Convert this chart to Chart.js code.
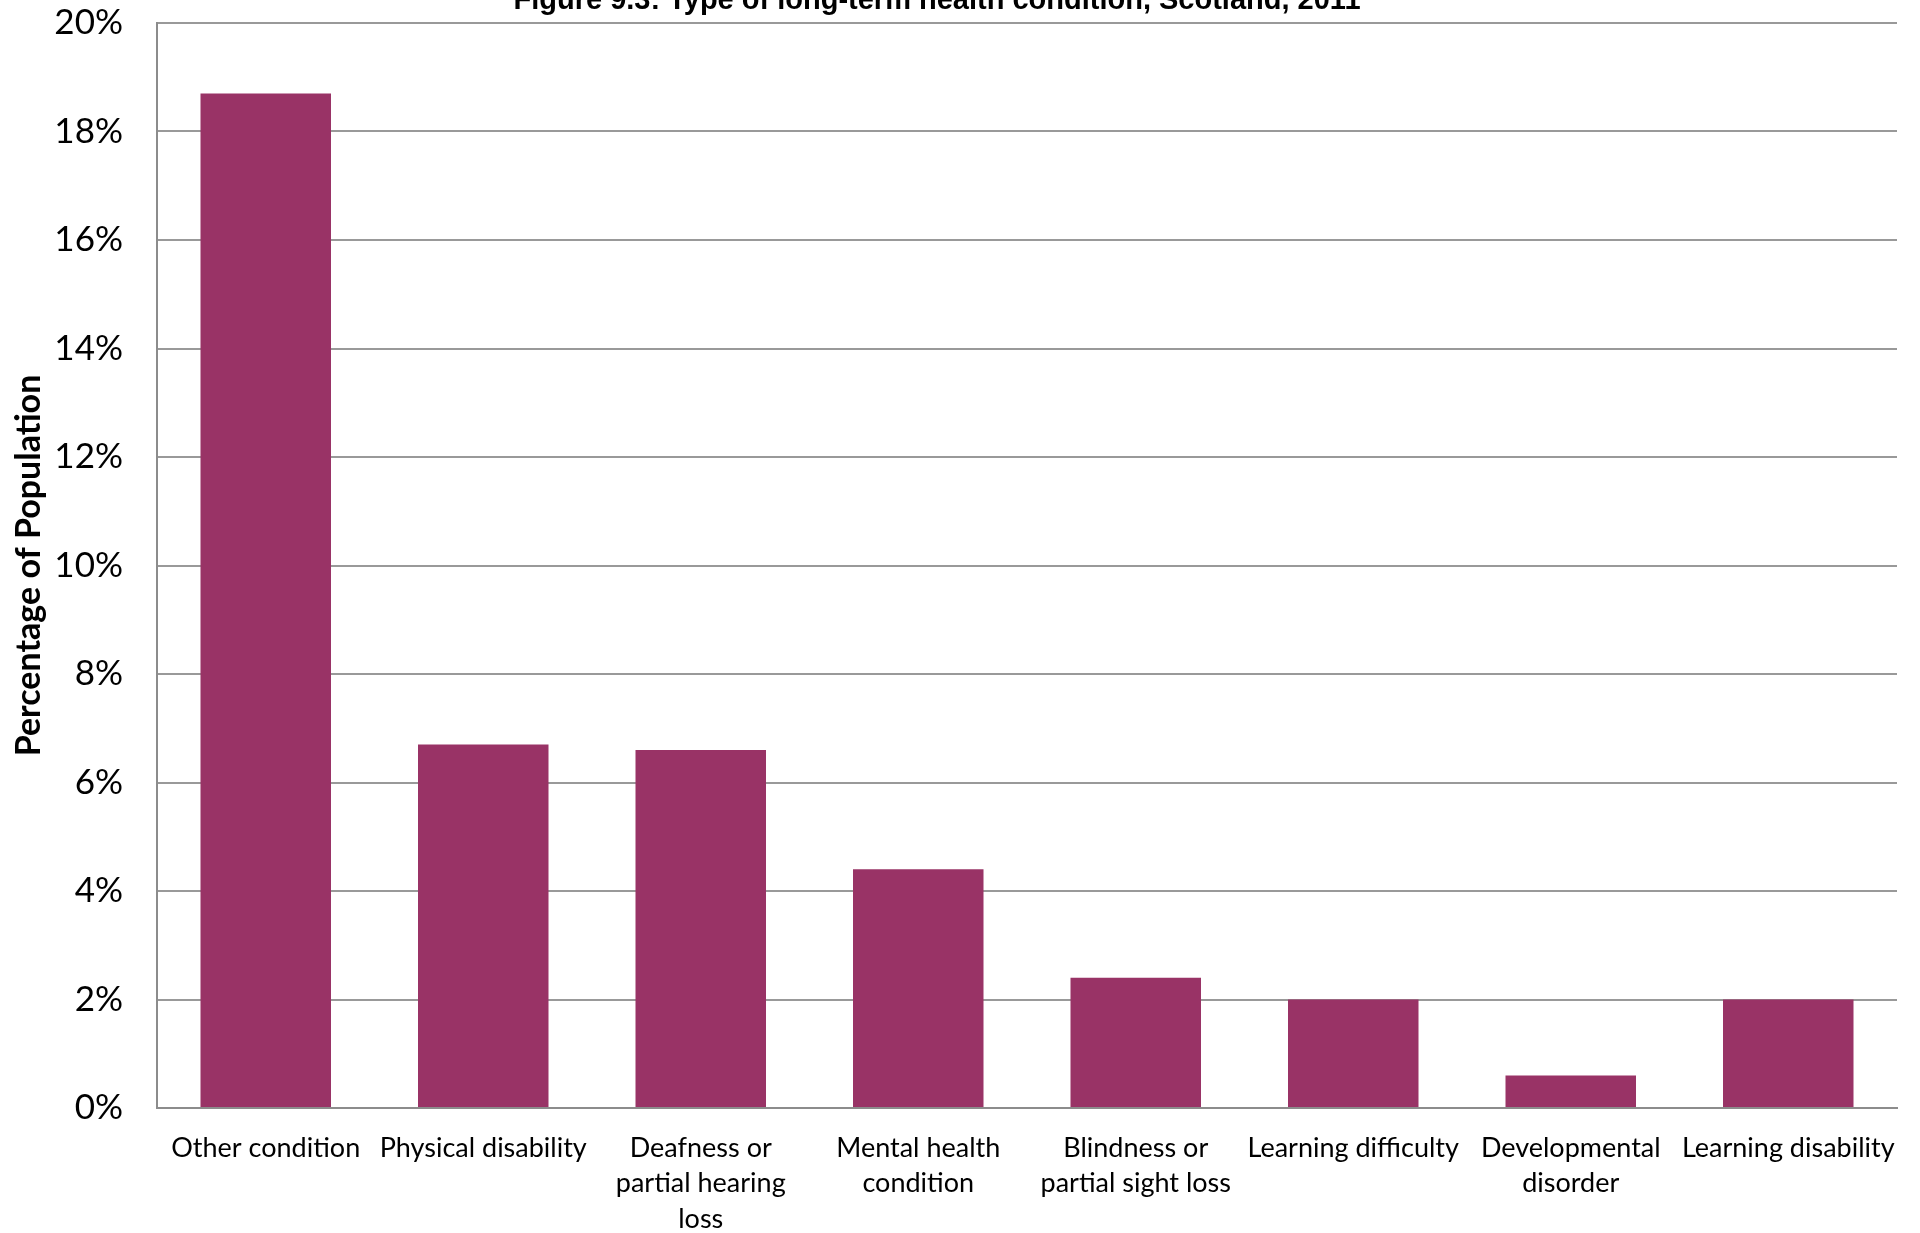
<!DOCTYPE html>
<html>
<head>
<meta charset="utf-8">
<script src="https://cdn.jsdelivr.net/npm/chart.js@4/dist/chart.umd.min.js"></script>
<style>
  html, body { margin: 0; padding: 0; background: #ffffff; }
  #wrap { width: 1920px; height: 1233px; position: relative; }
  canvas { display: block; }
</style>
</head>
<body>
<div id="wrap"><canvas id="c" width="1920" height="1233"></canvas></div>
<script>
const chartTitle = "Figure 9.3: Type of long-term health condition, Scotland, 2011";
const yAxisTitle = "Percentage of Population";
const categories = [
  "Other condition",
  "Physical disability",
  ["Deafness or", "partial hearing", "loss"],
  ["Mental health", "condition"],
  ["Blindness or", "partial sight loss"],
  "Learning difficulty",
  ["Developmental", "disorder"],
  "Learning disability"
];
const percentValues = [18.7, 6.7, 6.6, 4.4, 2.4, 2.0, 0.6, 2.0];
const yTickValues = [0, 2, 4, 6, 8, 10, 12, 14, 16, 18, 20];

const titlePlugin = {
  id: 'clippedTitle',
  afterDraw(chart) {
    const ctx = chart.ctx;
    ctx.save();
    ctx.font = 'bold 29px "Liberation Sans", Arial, sans-serif';
    ctx.fillStyle = '#000000';
    ctx.textAlign = 'center';
    ctx.textBaseline = 'alphabetic';
    ctx.fillText(chartTitle, 937, 9);
    ctx.restore();
  }
};

new Chart(document.getElementById('c'), {
  type: 'bar',
  data: {
    labels: categories,
    datasets: [{
      data: percentValues,
      backgroundColor: '#993366',
      borderWidth: 0,
      barPercentage: 0.6,
      categoryPercentage: 1.0
    }]
  },
  options: {
    responsive: false,
    animation: false,
    devicePixelRatio: 1,
    layout: { padding: { top: 23, right: 23, left: 0, bottom: 0 } },
    plugins: { legend: { display: false }, tooltip: { enabled: false } },
    scales: {
      x: {
        grid: { display: false, drawTicks: false },
        border: { display: true, color: '#8c8c8c', width: 2 },
        ticks: {
          color: '#000000',
          font: { family: 'Lato', size: 27, lineHeight: 1.32 },
          padding: 22,
          maxRotation: 0,
          minRotation: 0,
          autoSkip: false
        },
        afterFit(scale) { scale.height = 125; }
      },
      y: {
        min: 0,
        max: 20,
        afterBuildTicks(scale) { scale.ticks = yTickValues.map(v => ({ value: v })); },
        grid: { color: '#999999', lineWidth: 2, drawTicks: false },
        border: { display: true, color: '#8c8c8c', width: 2 },
        ticks: {
          color: '#000000',
          font: { family: 'Lato', size: 35 },
          padding: 34,
          callback: (v) => v + '%'
        },
        title: {
          display: true,
          text: yAxisTitle,
          color: '#000000',
          font: { family: 'Lato', size: 34, weight: 'bold', lineHeight: 1.2 },
          padding: { top: 9, bottom: 0 }
        },
        afterFit(scale) {
          scale.width = 157;
          scale.paddingTop = 0;
          scale.paddingBottom = 0;
        }
      }
    }
  },
  plugins: [titlePlugin]
});
</script>
</body>
</html>
